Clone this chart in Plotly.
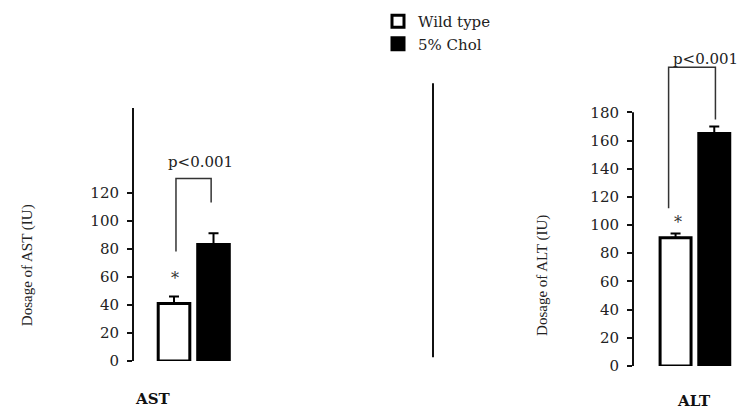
import plotly.graph_objects as go

# Serum enzyme levels (IU), mean with upper error
groups = ["Wild type", "5% Chol"]
ast_mean = [41, 83]
ast_err = [5, 8]
alt_mean = [91, 165]
alt_err = [3, 5]

ast_ticks = [0, 20, 40, 60, 80, 100, 120]
alt_ticks = [0, 20, 40, 60, 80, 100, 120, 140, 160, 180]

# Significance brackets: [left leg bottom, top, right leg bottom]
ast_bracket = [78, 130, 113]
alt_bracket = [112, 212, 175]
ast_star = 59
alt_star = 102
p_label = "p<0.001"

SERIF = "DejaVu Serif"
INK = "#111111"
TXT = "#222222"

fig = go.Figure()

fills = ["white", "black"]
for i, g in enumerate(groups):
    for xa, ya, vals, errs in (("x", "y", ast_mean, ast_err), ("x2", "y2", alt_mean, alt_err)):
        fig.add_trace(go.Bar(
            x=[g], y=[vals[i]], xaxis=xa, yaxis=ya, name=g,
            legendgroup=g, showlegend=(xa == "x"),
            width=0.8,
            marker=dict(color=fills[i], line=dict(color="black", width=3)),
            error_y=dict(type="data", symmetric=False, array=[errs[i]], arrayminus=[0],
                         color="black", thickness=2, width=5),
        ))

axis_font = dict(family=SERIF, size=15, color=TXT)
common_y = dict(showgrid=False, zeroline=False, ticks="outside", ticklen=5,
                tickcolor=INK, tickwidth=1.5, tickfont=axis_font, ticklabelstandoff=5)
common_x = dict(showgrid=False, zeroline=False, showline=False, showticklabels=False,
                ticks="", type="category", categoryorder="array", categoryarray=groups)

fig.update_layout(
    width=746, height=418,
    margin=dict(l=0, r=0, t=0, b=0),
    paper_bgcolor="white", plot_bgcolor="white",
    barmode="group",
    xaxis=dict(domain=[134 / 746, 250 / 746], range=[-1.013, 1.924], anchor="y", **common_x),
    yaxis=dict(domain=[0.11722, 0.73684], range=[0, 180.5], anchor="x",
               tickvals=ast_ticks, showline=True, linecolor=INK, linewidth=2, **common_y),
    xaxis2=dict(domain=[633 / 746, 1.0], range=[-1.1, 1.82], anchor="y2", **common_x),
    yaxis2=dict(domain=[0.10526, 0.89761], range=[0, 230], anchor="x2",
                tickvals=alt_ticks, showline=False, **common_y),
    legend=dict(x=378 / 746, y=1 - 5 / 418, xanchor="left", yanchor="top",
                font=dict(family=SERIF, size=15, color=TXT),
                bgcolor="rgba(0,0,0,0)", tracegroupgap=0, itemwidth=30),
    showlegend=True,
)

shapes = []
# ALT axis line stops at the last tick
shapes.append(dict(type="line", xref="x2 domain", yref="y2", x0=0, x1=0,
                   y0=0, y1=alt_ticks[-1], line=dict(color=INK, width=2)))
# Divider between the two panels
shapes.append(dict(type="line", xref="paper", yref="paper", x0=433 / 746, x1=433 / 746,
                   y0=1 - 365 / 418, y1=1 - 85 / 418, line=dict(color=INK, width=2)))


def bracket(xa, ya, xl, xr, levels):
    lo_l, top, lo_r = levels
    return dict(type="path", xref=xa, yref=ya,
                path=f"M {xl},{lo_l} L {xl},{top} L {xr},{top} L {xr},{lo_r}",
                line=dict(color="#333333", width=1.5))


shapes.append(bracket("x", "y", 0.05, 0.94, ast_bracket))
shapes.append(bracket("x2", "y2", -0.18, 1.03, alt_bracket))
fig.update_layout(shapes=shapes)


def note(text, x, y, xref, yref, size, family=SERIF, color=TXT, angle=0):
    return dict(xref=xref, yref=yref, x=x, y=y, text=text, showarrow=False,
                xanchor="center", yanchor="middle", textangle=angle,
                font=dict(family=family, size=size, color=color))


annotations = [
    note(p_label, 0.66, ast_bracket[1] + 12, "x", "y", 15),
    note(p_label, 0.77, alt_bracket[1] + 6, "x2", "y2", 15),
    note("*", 0.03, ast_star, "x", "y", 16, color="#333333"),
    note("*", 0.05, alt_star, "x2", "y2", 16, color="#333333"),
    note("Dosage of AST (IU)", 27 / 746, 1 - 271 / 418, "paper", "paper", 15,
         family="Liberation Serif", angle=-90),
    note("Dosage of ALT (IU)", 543 / 746, 1 - 282 / 418, "paper", "paper", 15,
         family="Liberation Serif", angle=-90),
    note("<b>AST</b>", 152 / 746, 1 - 408 / 418, "paper", "paper", 15, color=INK),
    note("<b>ALT</b>", 694 / 746, 1 - 410 / 418, "paper", "paper", 15, color=INK),
]
fig.update_layout(annotations=annotations)

fig.write_html("out.html")
